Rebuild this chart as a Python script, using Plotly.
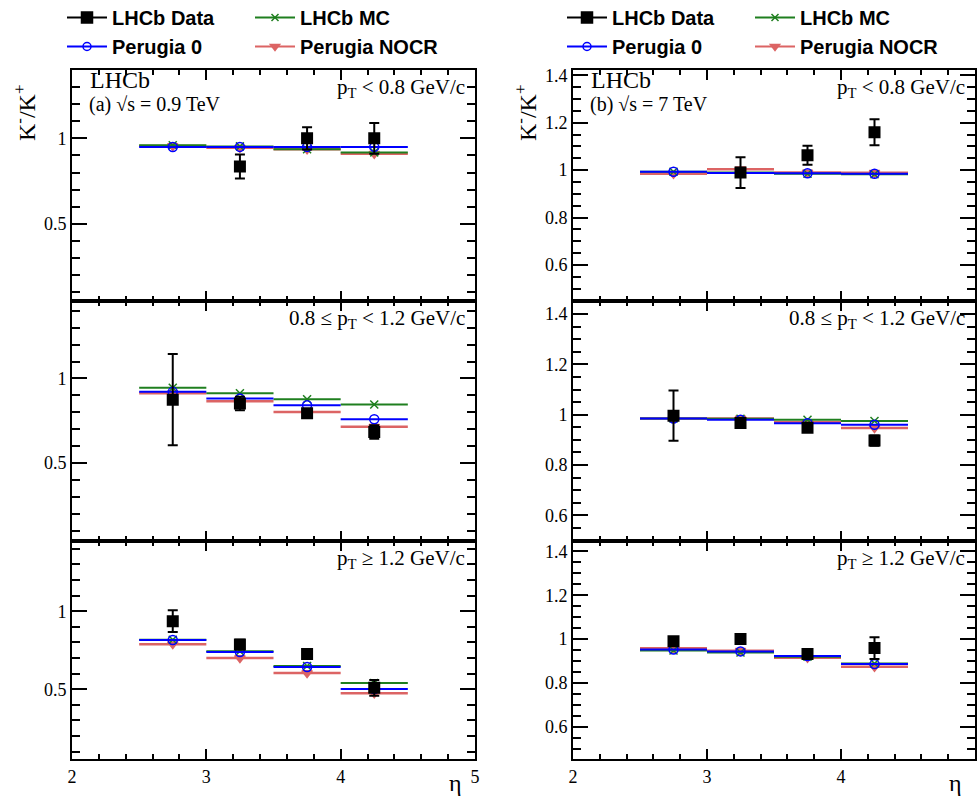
import plotly.graph_objects as go

# ---------------- data ----------------
eta_centers = [2.75, 3.25, 3.75, 4.25]
bin_half_width = [0.25, 0.25, 0.25, 0.25]

# (a) sqrt(s) = 0.9 TeV
a_low_data = [None, 0.835, 1.000, 1.000]
a_low_data_err = [0.0, 0.070, 0.065, 0.090]
a_low_mc = [0.960, 0.953, 0.936, 0.918]
a_low_p0 = [0.949, 0.950, 0.950, 0.950]
a_low_nocr = [0.955, 0.945, 0.936, 0.910]

a_mid_data = [0.875, 0.852, 0.795, 0.684]
a_mid_data_err = [0.270, 0.040, 0.015, 0.040]
a_mid_mc = [0.945, 0.913, 0.877, 0.846]
a_mid_p0 = [0.921, 0.881, 0.842, 0.759]
a_mid_nocr = [0.913, 0.866, 0.802, 0.715]

a_high_data = [0.936, 0.787, 0.726, 0.509]
a_high_data_err = [0.070, 0.030, 0.020, 0.050]
a_high_mc = [0.817, 0.743, 0.649, 0.540]
a_high_p0 = [0.815, 0.738, 0.643, 0.502]
a_high_nocr = [0.789, 0.700, 0.604, 0.474]

# (b) sqrt(s) = 7 TeV
b_low_data = [None, 0.990, 1.063, 1.160]
b_low_data_err = [0.0, 0.065, 0.040, 0.055]
b_low_mc = [0.993, 0.990, 0.985, 0.983]
b_low_p0 = [0.993, 0.988, 0.987, 0.985]
b_low_nocr = [0.985, 1.004, 0.990, 0.989]

b_mid_data = [0.996, 0.967, 0.948, 0.897]
b_mid_data_err = [0.100, 0.015, 0.015, 0.020]
b_mid_mc = [0.985, 0.984, 0.980, 0.975]
b_mid_p0 = [0.985, 0.980, 0.966, 0.960]
b_mid_nocr = [0.985, 0.985, 0.970, 0.947]

b_high_data = [0.990, 1.000, 0.932, 0.959]
b_high_data_err = [0.015, 0.015, 0.015, 0.050]
b_high_mc = [0.948, 0.939, 0.920, 0.889]
b_high_p0 = [0.953, 0.944, 0.923, 0.886]
b_high_nocr = [0.958, 0.947, 0.915, 0.874]

series_names = ["LHCb Data", "LHCb MC", "Perugia 0", "Perugia NOCR"]
pt_labels = ["p<sub>T</sub> < 0.8 GeV/c",
             "0.8 ≤ p<sub>T</sub> < 1.2 GeV/c",
             "p<sub>T</sub> ≥ 1.2 GeV/c"]
left_yticks = [0.5, 1.0]
right_yticks = [0.6, 0.8, 1.0, 1.2, 1.4]
x_ticks = [2, 3, 4, 5]

# ---------------- styling ----------------
W, H = 979, 797
BLACK = "black"
GREEN = "#1f7f1f"
BLUE = "#0000ff"
RED = "#dc6464"
SERIF = "Liberation Serif"
SANS = "Liberation Sans"

# panel geometry (pixels)
xl = (72, 475)
xr = (573, 975)
rows_px = [(69.5, 300.7), (300.7, 540.5), (540.5, 759.0)]

def xdom(px):
    return [px[0] / W, px[1] / W]

def ydom(py):
    return [(H - py[1]) / H, (H - py[0]) / H]

panels = [
    # (axis index, col, row, data, err, mc, p0, nocr, yrange)
    (1, 0, 0, a_low_data, a_low_data_err, a_low_mc, a_low_p0, a_low_nocr, [0.052, 1.402]),
    (2, 1, 0, b_low_data, b_low_data_err, b_low_mc, b_low_p0, b_low_nocr, [0.449, 1.425]),
    (3, 0, 1, a_mid_data, a_mid_data_err, a_mid_mc, a_mid_p0, a_mid_nocr, [0.042, 1.46]),
    (4, 1, 1, b_mid_data, b_mid_data_err, b_mid_mc, b_mid_p0, b_mid_nocr, [0.50, 1.453]),
    (5, 0, 2, a_high_data, a_high_data_err, a_high_mc, a_high_p0, a_high_nocr, [0.053, 1.453]),
    (6, 1, 2, b_high_data, b_high_data_err, b_high_mc, b_high_p0, b_high_nocr, [0.453, 1.45]),
]

fig = go.Figure()

def model_trace(xa, ya, yvals, color, symbol, size, lw, name):
    return go.Scatter(
        x=eta_centers, y=yvals, xaxis=xa, yaxis=ya, mode="markers", name=name,
        showlegend=False,
        marker=dict(symbol=symbol, size=size, color=color,
                    line=dict(color=color, width=1.5)),
        error_x=dict(type="data", array=bin_half_width, width=0,
                     thickness=lw, color=color),
    )

layout_axes = {}
for idx, col, row, d, de, mc, p0, nocr, yr in panels:
    xa = "x" if idx == 1 else f"x{idx}"
    ya = "y" if idx == 1 else f"y{idx}"
    fig.add_trace(model_trace(xa, ya, nocr, RED, "triangle-down", 9, 2.5, series_names[3]))
    fig.add_trace(model_trace(xa, ya, mc, GREEN, "x-thin", 8, 2, series_names[1]))
    fig.add_trace(model_trace(xa, ya, p0, BLUE, "circle-open", 9, 2, series_names[2]))
    fig.add_trace(go.Scatter(
        x=eta_centers, y=d, xaxis=xa, yaxis=ya, mode="markers", name=series_names[0],
        showlegend=False,
        marker=dict(symbol="square", size=12, color=BLACK),
        error_y=dict(type="data", array=de, width=5, thickness=2, color=BLACK),
    ))
    xkey = "xaxis" if idx == 1 else f"xaxis{idx}"
    ykey = "yaxis" if idx == 1 else f"yaxis{idx}"
    bottom = row == 2
    layout_axes[xkey] = dict(
        domain=xdom(xl if col == 0 else xr), anchor=ya, range=[2, 5],
        tickvals=x_ticks, showticklabels=bottom, ticks="inside", ticklen=10,
        tickwidth=2, tickcolor=BLACK, automargin=False,
        minor=dict(dtick=0.2, ticks="inside", ticklen=5, tickwidth=2, tickcolor=BLACK),
        showline=True, linewidth=2, linecolor=BLACK, mirror="allticks",
        showgrid=False, zeroline=False,
        tickfont=dict(family=SERIF, size=18, color=BLACK),
    )
    yt = left_yticks if col == 0 else right_yticks
    layout_axes[ykey] = dict(
        domain=ydom(rows_px[row]), anchor=xa, range=yr,
        tickvals=yt, ticktext=[f"{v:g}" for v in yt],
        ticks="inside", ticklen=15, tickwidth=2, tickcolor=BLACK, automargin=False,
        minor=dict(dtick=0.1 if col == 0 else 0.05, tick0=0, ticks="inside", ticklen=8,
                   tickwidth=2, tickcolor=BLACK),
        showline=True, linewidth=2, linecolor=BLACK, mirror="allticks",
        showgrid=False, zeroline=False,
        tickfont=dict(family=SERIF, size=18, color=BLACK),
    )

# legend entries (line + marker samples), four small legends
legend_specs = [
    ("legend", series_names[0], BLACK, "square", 11, 1.5),
    ("legend", series_names[2], BLUE, "circle-open", 8, 1.5),
    ("legend2", series_names[1], GREEN, "x-thin", 7, 1.5),
    ("legend2", series_names[3], RED, "triangle-down", 8, 1.5),
    ("legend3", series_names[0], BLACK, "square", 11, 1.5),
    ("legend3", series_names[2], BLUE, "circle-open", 8, 1.5),
    ("legend4", series_names[1], GREEN, "x-thin", 7, 1.5),
    ("legend4", series_names[3], RED, "triangle-down", 8, 1.5),
]
for lg, name, color, sym, size, lw in legend_specs:
    fig.add_trace(go.Scatter(
        x=[None], y=[None], mode="lines+markers", name=name, legend=lg,
        showlegend=True,
        line=dict(color=color, width=2),
        marker=dict(symbol=sym, size=size, color=color, line=dict(color=color, width=lw)),
    ))

legend_font = dict(family=SANS, size=20, color=BLACK, weight="bold")
def legend_at(xpx):
    return dict(x=xpx / W, y=1.0 + 2 / H, xanchor="left", yanchor="top",
                bgcolor="rgba(0,0,0,0)", borderwidth=0, font=legend_font,
                tracegroupgap=0, itemclick=False, itemwidth=40)

annotations = []
for col, (x0, x1) in enumerate([xl, xr]):
    annotations.append(dict(xref="paper", yref="paper", x=(x0 + 16) / W, y=(H - 80) / H,
                            text="LHCb", showarrow=False, xanchor="left", yanchor="middle",
                            font=dict(family=SERIF, size=24, color=BLACK)))
    annotations.append(dict(xref="paper", yref="paper", x=(x0 + 15) / W, y=(H - 104) / H,
                            text="(a) √s = 0.9 TeV" if col == 0 else "(b) √s = 7 TeV",
                            showarrow=False, xanchor="left", yanchor="middle",
                            font=dict(family=SERIF, size=20, color=BLACK)))
    for row, (ytop, ybot) in enumerate(rows_px):
        annotations.append(dict(xref="paper", yref="paper", x=(x1 - 8) / W, y=(H - ytop - 18) / H,
                                text=pt_labels[row], showarrow=False, xanchor="right",
                                yanchor="middle",
                                font=dict(family=SERIF, size=21, color=BLACK)))
    annotations.append(dict(xref="paper", yref="paper", x=(x0 - 47) / W, y=(H - 113) / H,
                            text="K<sup>-</sup>/K<sup>+</sup>", showarrow=False, textangle=-90,
                            xanchor="center", yanchor="middle",
                            font=dict(family=SERIF, size=24, color=BLACK)))
    annotations.append(dict(xref="paper", yref="paper", x=(x1 - 20) / W, y=(H - 783) / H,
                            text="η", showarrow=False, xanchor="center", yanchor="middle",
                            font=dict(family=SERIF, size=24, color=BLACK)))

fig.update_layout(
    template="none",
    width=W, height=H,
    margin=dict(l=0, r=0, t=0, b=0, autoexpand=False),
    paper_bgcolor="white", plot_bgcolor="white",
    showlegend=True,
    legend=legend_at(62),
    legend2=legend_at(250),
    legend3=legend_at(562),
    legend4=legend_at(750),
    annotations=annotations,
    **layout_axes,
)

fig.write_html(
    "out.html",
    config={"displayModeBar": False},
    post_script="document.body.style.margin='0';document.body.style.overflow='hidden';",
)
